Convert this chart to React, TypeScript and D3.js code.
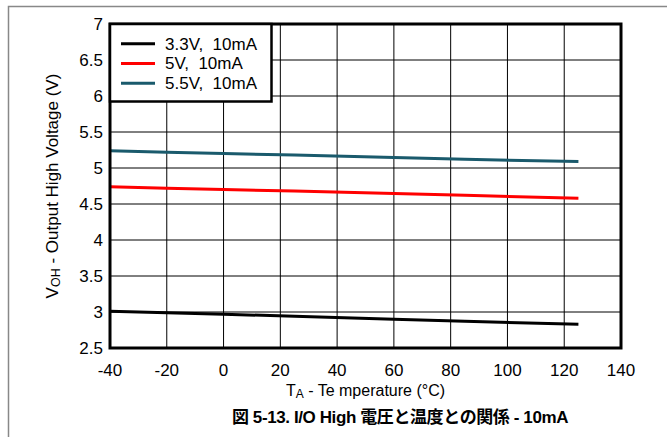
import React from "react";
import * as d3 from "d3";

const temps = [-40, -20, 0, 25, 60, 85, 125];
const v33 = [3.01, 2.99, 2.97, 2.94, 2.9, 2.87, 2.83];
const v50 = [4.74, 4.72, 4.70, 4.68, 4.645, 4.62, 4.58];
const v55 = [5.24, 5.22, 5.20, 5.18, 5.145, 5.12, 5.09];
const seriesNames = ["3.3V,  10mA", "5V,  10mA", "5.5V,  10mA"];
const seriesColors = ["#000000", "#ff0000", "#1a5a6c"];
const xTicks = [-40, -20, 0, 20, 40, 60, 80, 100, 120, 140];
const yTicks = [2.5, 3, 3.5, 4, 4.5, 5, 5.5, 6, 6.5, 7];

const W = 667, H = 437;
const L = 110, R = 621, T = 24, B = 348;
const FONT = "'Liberation Sans', Arial, sans-serif";

export default function App() {
  const x = d3.scaleLinear().domain([-40, 140]).range([L, R]);
  const y = d3.scaleLinear().domain([2.5, 7]).range([B, T]);
  const series = [v33, v50, v55];
  const line = d3.line<number>().x((_, i) => x(temps[i])).y((d) => y(d));
  const cx = (L + R) / 2;
  return (
    <svg width={W} height={H} style={{ position: "absolute", left: 0, top: 0 }} fontFamily={FONT}>
      <rect x={0} y={0} width={W} height={H} fill="#fff" />
      <path d={`M8.5,${H} V6.5 H${W}`} fill="none" stroke="#888" strokeWidth={1.5} />
      {xTicks.map((t) => (
        <line key={"gx" + t} x1={x(t)} x2={x(t)} y1={T} y2={B} stroke="#000" strokeWidth={1} />
      ))}
      {yTicks.map((t) => (
        <line key={"gy" + t} x1={L} x2={R} y1={y(t)} y2={y(t)} stroke="#000" strokeWidth={1} />
      ))}
      {series.map((s, i) => (
        <path key={"s" + i} d={line(s) || ""} fill="none" stroke={seriesColors[i]} strokeWidth={3} />
      ))}
      <rect x={L} y={T} width={R - L} height={B - T} fill="none" stroke="#000" strokeWidth={3} />
      <rect x={L} y={T} width={161.5} height={77.5} fill="#fff" stroke="#000" strokeWidth={2.5} />
      {seriesNames.map((n, i) => (
        <g key={"lg" + i}>
          <line x1={121} x2={155} y1={43.7 + i * 19.8} y2={43.7 + i * 19.8} stroke={seriesColors[i]} strokeWidth={3} />
          <text x={165} y={49.5 + i * 19.8} fontSize={17} style={{ whiteSpace: "pre" }}>{n}</text>
        </g>
      ))}
      {yTicks.map((t) => (
        <text key={"ty" + t} x={103} y={y(t) + 6} fontSize={17} textAnchor="end">{t}</text>
      ))}
      {xTicks.map((t) => (
        <text key={"tx" + t} x={x(t)} y={376} fontSize={17} textAnchor="middle">{t}</text>
      ))}
      <text x={cx} y={396} fontSize={16} textAnchor="middle" style={{ whiteSpace: "pre" }}>
        T<tspan fontSize={12} dy={2}>A</tspan><tspan dy={-2}> - Te mperature (°C)</tspan>
      </text>
      <text transform={`translate(58,${(T + B) / 2}) rotate(-90)`} fontSize={17} textAnchor="middle">
        V<tspan fontSize={12.5} dy={2}>OH</tspan><tspan dy={-2}> - Output High Voltage (V)</tspan>
      </text>
      <text x={400} y={423} fontSize={17} fontWeight="bold" textAnchor="middle" letterSpacing={-0.4}
        fontFamily="'Liberation Sans', 'Noto Sans CJK JP', sans-serif">
        図 5-13. I/O High 電圧と温度との関係 - 10mA
      </text>
    </svg>
  );
}
